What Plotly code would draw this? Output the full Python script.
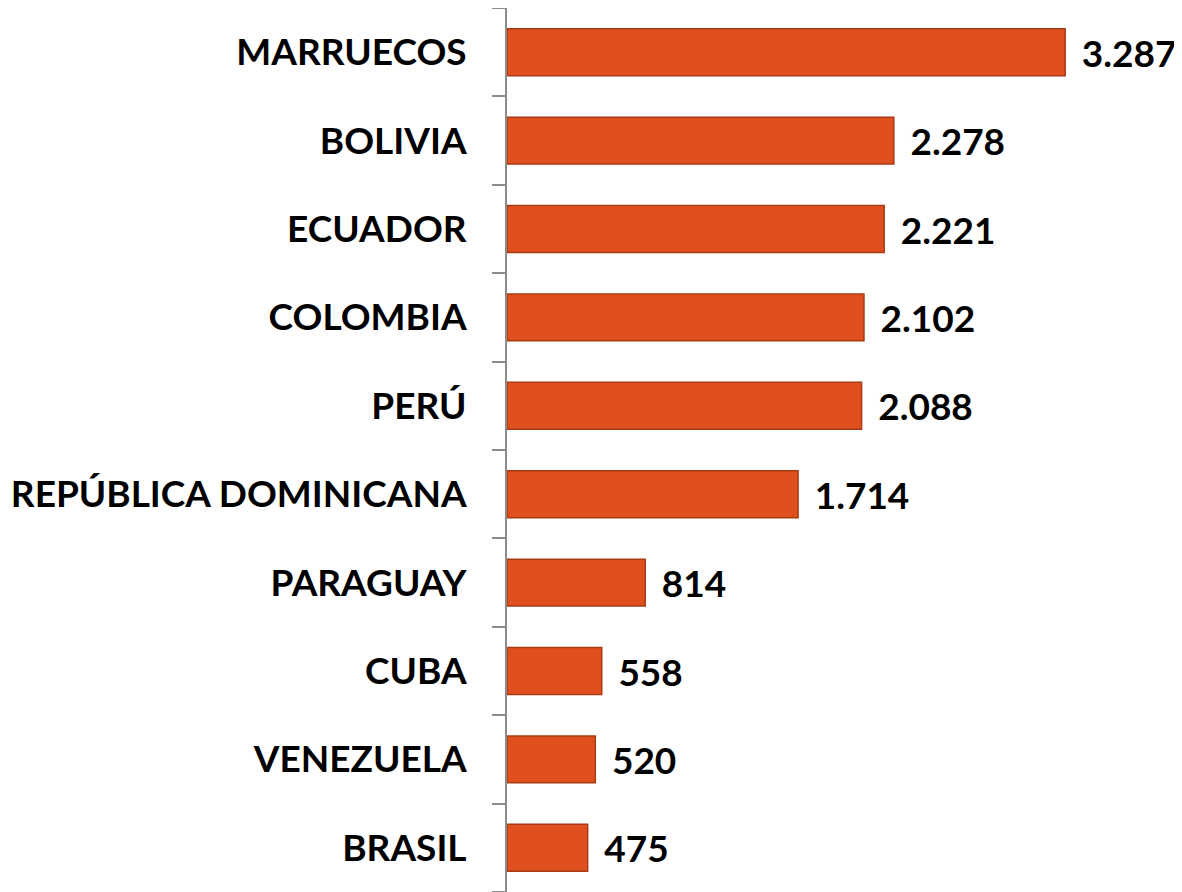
import plotly.graph_objects as go

# Countries listed top to bottom, with their values
countries = ["MARRUECOS", "BOLIVIA", "ECUADOR", "COLOMBIA", "PERÚ",
             "REPÚBLICA DOMINICANA", "PARAGUAY", "CUBA", "VENEZUELA", "BRASIL"]
values = [3287, 2278, 2221, 2102, 2088, 1714, 814, 558, 520, 475]

# plotly draws horizontal categories bottom-up, so reverse
cats = countries[::-1]
vals = values[::-1]

font = "Lato, 'Open Sans', sans-serif"

fig = go.Figure()
fig.add_trace(go.Bar(
    y=cats,
    x=vals,
    orientation="h",
    marker=dict(color="#E0501F", line=dict(color="#A83A14", width=1.5)),
    texttemplate="\u2009 %{x:,d}",
    textposition="outside",
    constraintext="none",
    textfont=dict(family=font, size=37, color="black", weight="bold"),
    cliponaxis=False,
    hoverinfo="skip",
))

# the page body adds an 8px offset, margins are set to compensate
fig.update_layout(
    template=None,
    width=1182,
    height=892,
    separators=",.",
    showlegend=False,
    bargap=0.47,
    plot_bgcolor="white",
    paper_bgcolor="white",
    margin=dict(l=499, r=0, t=0, b=8, autoexpand=False),
    xaxis=dict(range=[0, 4022], visible=False, automargin=False),
    yaxis=dict(
        type="category",
        automargin=False,
        showline=True,
        linecolor="#8c8c8c",
        linewidth=2,
        ticks="outside",
        tickson="boundaries",
        ticklen=13,
        tickcolor="#8c8c8c",
        tickwidth=2,
        showgrid=False,
        ticklabelstandoff=31,
        tickfont=dict(family=font, size=37, color="black", weight="bold"),
    ),
)

fig.write_html("out.html")
